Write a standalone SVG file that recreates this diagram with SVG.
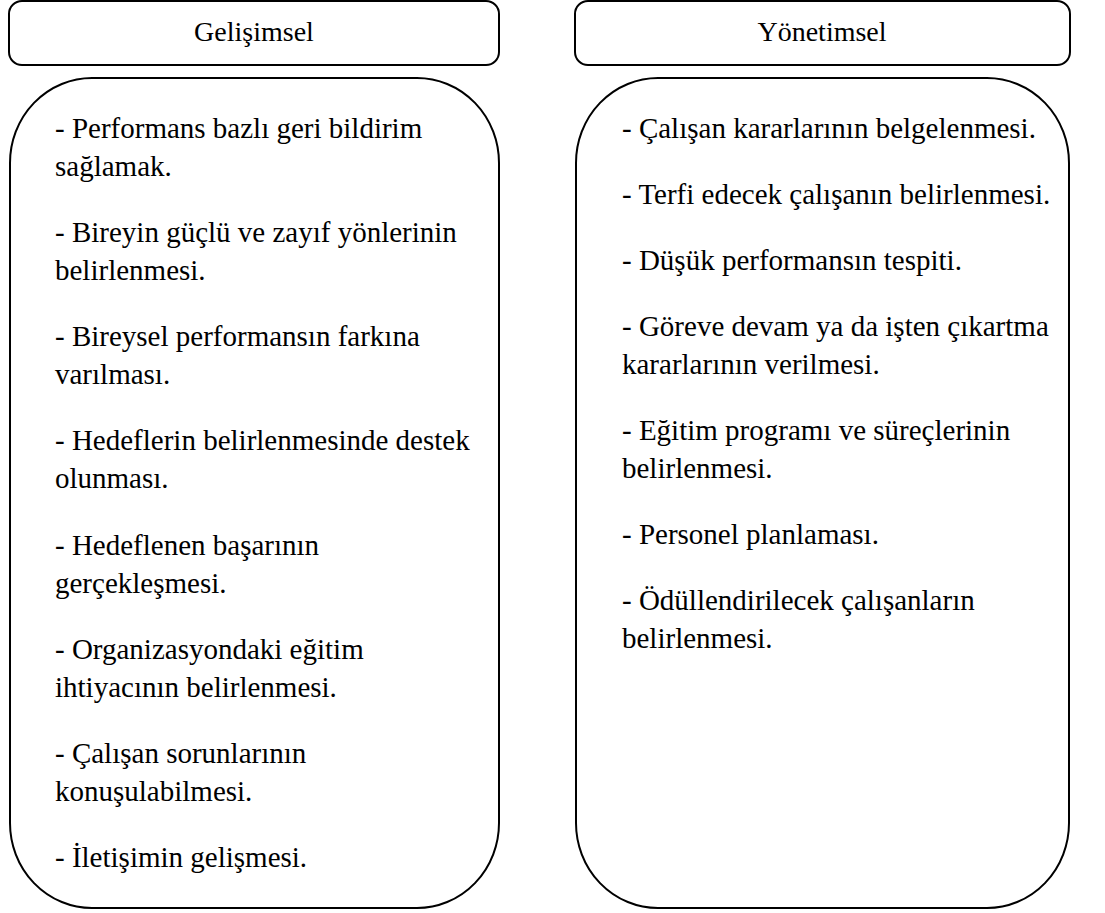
<svg xmlns="http://www.w3.org/2000/svg" width="1105" height="913" viewBox="0 0 1105 913">
  <style>
    .box { fill: #ffffff; stroke: #000000; stroke-width: 2; }
    .head { font-family: "Liberation Serif", "Times New Roman", serif; font-size: 28px; fill: #000000; text-anchor: middle; }
    .item { font-family: "Liberation Serif", "Times New Roman", serif; font-size: 29px; fill: #000000; }
  </style>
  <rect width="1105" height="913" fill="#ffffff"/>

  <!-- Column headers -->
  <g id="header-gelisimsel">
    <rect class="box" x="9" y="1" width="490" height="64" rx="13" ry="13"/>
    <text class="head" x="254" y="41">Gelişimsel</text>
  </g>
  <g id="header-yonetimsel">
    <rect class="box" x="575" y="1" width="495" height="64" rx="13" ry="13"/>
    <text class="head" x="822" y="41">Yönetimsel</text>
  </g>

  <!-- Developmental purposes -->
  <g id="list-gelisimsel">
    <rect class="box" x="10" y="78" width="489" height="830" rx="82" ry="85"/>
    <text class="item" x="55" y="138">- Performans bazlı geri bildirim</text>
    <text class="item" x="55" y="176">sağlamak.</text>
    <text class="item" x="55" y="242">- Bireyin güçlü ve zayıf yönlerinin</text>
    <text class="item" x="55" y="280">belirlenmesi.</text>
    <text class="item" x="55" y="346">- Bireysel performansın farkına</text>
    <text class="item" x="55" y="384">varılması.</text>
    <text class="item" x="55" y="450">- Hedeflerin belirlenmesinde destek</text>
    <text class="item" x="55" y="488">olunması.</text>
    <text class="item" x="55" y="555">- Hedeflenen başarının</text>
    <text class="item" x="55" y="593">gerçekleşmesi.</text>
    <text class="item" x="55" y="659">- Organizasyondaki eğitim</text>
    <text class="item" x="55" y="697">ihtiyacının belirlenmesi.</text>
    <text class="item" x="55" y="763">- Çalışan sorunlarının</text>
    <text class="item" x="55" y="801">konuşulabilmesi.</text>
    <text class="item" x="55" y="867">- İletişimin gelişmesi.</text>
  </g>

  <!-- Administrative purposes -->
  <g id="list-yonetimsel">
    <rect class="box" x="576" y="78" width="493" height="830" rx="82" ry="85"/>
    <text class="item" x="622" y="138">- Çalışan kararlarının belgelenmesi.</text>
    <text class="item" x="622" y="204">- Terfi edecek çalışanın belirlenmesi.</text>
    <text class="item" x="622" y="270">- Düşük performansın tespiti.</text>
    <text class="item" x="622" y="336">- Göreve devam ya da işten çıkartma</text>
    <text class="item" x="622" y="374">kararlarının verilmesi.</text>
    <text class="item" x="622" y="440">- Eğitim programı ve süreçlerinin</text>
    <text class="item" x="622" y="478">belirlenmesi.</text>
    <text class="item" x="622" y="544">- Personel planlaması.</text>
    <text class="item" x="622" y="610">- Ödüllendirilecek çalışanların</text>
    <text class="item" x="622" y="648">belirlenmesi.</text>
  </g>

  <g id="connectors"/>
</svg>
